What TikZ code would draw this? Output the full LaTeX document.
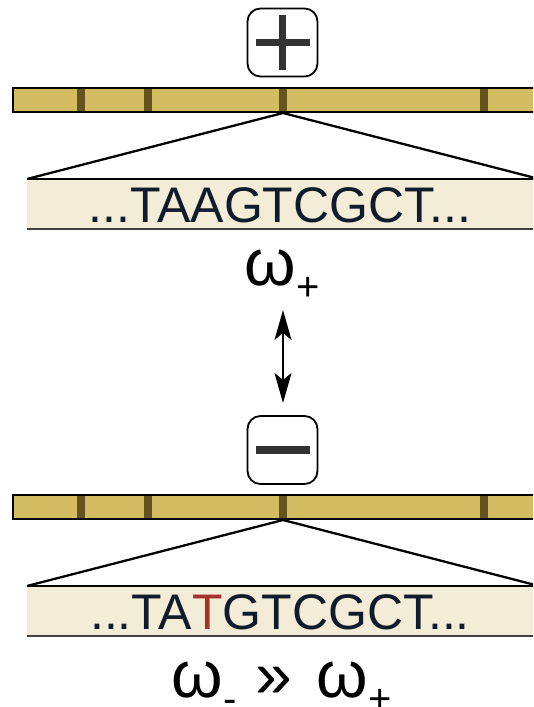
\documentclass[tikz,border=0pt]{standalone}
\usepackage{fontspec}
\setmainfont{Liberation Sans}
\usetikzlibrary{arrows.meta}
\definecolor{barfill}{HTML}{D4BC62}
\definecolor{divcol}{HTML}{66521E}
\definecolor{seqfill}{HTML}{F3ECD6}
\definecolor{seqtxt}{HTML}{101B2D}
\definecolor{mutred}{HTML}{A5312C}
\definecolor{signcol}{HTML}{333333}
\tikzset{
  barfillst/.style={fill=barfill},
  barborder/.style={draw=black,line width=2.6pt},
  divider/.style={fill=divcol},
  seqbg/.style={fill=seqfill},
  seqtop/.style={draw=black,line width=2.4pt},
  seqbot/.style={draw=black!75,line width=2.2pt},
  zoomline/.style={draw=black,line width=2.3pt},
  seqtext/.style={text=seqtxt,font=\fontsize{50}{60}\selectfont,inner sep=0pt},
  signbox/.style={draw=black,line width=1.8pt,rounded corners=13pt,minimum width=70pt,minimum height=68pt,inner sep=0pt},
  signbar/.style={draw=signcol,line width=7.5pt},
  omegatext/.style={font=\fontsize{66}{70}\selectfont,inner sep=0pt,text depth=0pt},
  subtext/.style={font=\fontsize{40}{44}\selectfont,inner sep=0pt,text depth=0pt},
  dblarrow/.style={line width=2.3pt,{Stealth[length=30pt,width=17pt,inset=7pt]}-{Stealth[length=30pt,width=17pt,inset=7pt]}}
}
\begin{document}
\begin{tikzpicture}[x=1pt,y=-1pt]
\useasboundingbox (0,0) rectangle (533,707);
\clip (0,0) rectangle (533,707);
% ---------- top section ----------
\node[signbox] (plus) at (282.5,42.5) {};
\draw[signbar] ([xshift=-27pt]plus.center) -- ([xshift=27pt]plus.center);
\draw[signbar] ([yshift=-27.5pt]plus.center) -- ([yshift=27.5pt]plus.center);
\fill[barfillst] (13,88) rectangle (545,112);
\foreach \x in {81,148,283,484} \fill[divider] (\x-4,88) rectangle (\x+4,112);
\draw[barborder] (545,88) -- (13,88) -- (13,112) -- (545,112);
\coordinate (apex1) at (283,113);
\coordinate (lft1) at (27,179);
\coordinate (rgt1) at (545,180.5);
\draw[zoomline] (lft1) -- (apex1) -- (rgt1);
\fill[seqbg] (27,179) rectangle (545,229);
\draw[seqtop] (27,179) -- (545,179);
\draw[seqbot] (27,229) -- (545,229);
\node[seqtext,anchor=base] (seq1) at (280,222) {...TAAGTCGCT...};
\node[omegatext,anchor=base] (w1) at (270,285) {ω};
\node[subtext,anchor=base west] (p1) at (w1.base east) [yshift=-15pt] {+};
% ---------- arrow ----------
\coordinate (atop) at (283,310);
\coordinate (abot) at (283,403);
\draw[dblarrow] (atop) -- (abot);
% ---------- bottom section ----------
\node[signbox] (minus) at (282.5,450) {};
\draw[signbar] ([xshift=-27pt]minus.center) -- ([xshift=27pt]minus.center);
\fill[barfillst] (13,495) rectangle (545,519);
\foreach \x in {81,148,283,484} \fill[divider] (\x-4,495) rectangle (\x+4,519);
\draw[barborder] (545,495) -- (13,495) -- (13,519) -- (545,519);
\coordinate (apex2) at (283,520);
\coordinate (lft2) at (27,586);
\coordinate (rgt2) at (545,587.5);
\draw[zoomline] (lft2) -- (apex2) -- (rgt2);
\fill[seqbg] (27,586) rectangle (545,636);
\draw[seqtop] (27,586) -- (545,586);
\draw[seqbot] (27,636) -- (545,636);
\node[seqtext,anchor=base] (seq2) at (280,629) {...TA\textcolor{mutred}{T}GTCGCT...};
\node[omegatext,anchor=base] (w2) at (197,697) {ω};
\node[subtext,anchor=base west] (m2) at (w2.base east) [yshift=-15pt] {-};
\node[omegatext,anchor=base] (gg) at (274,697) {»};
\node[omegatext,anchor=base] (w3) at (342,697) {ω};
\node[subtext,anchor=base west] (p3) at (w3.base east) [yshift=-15pt] {+};
\end{tikzpicture}
\end{document}
